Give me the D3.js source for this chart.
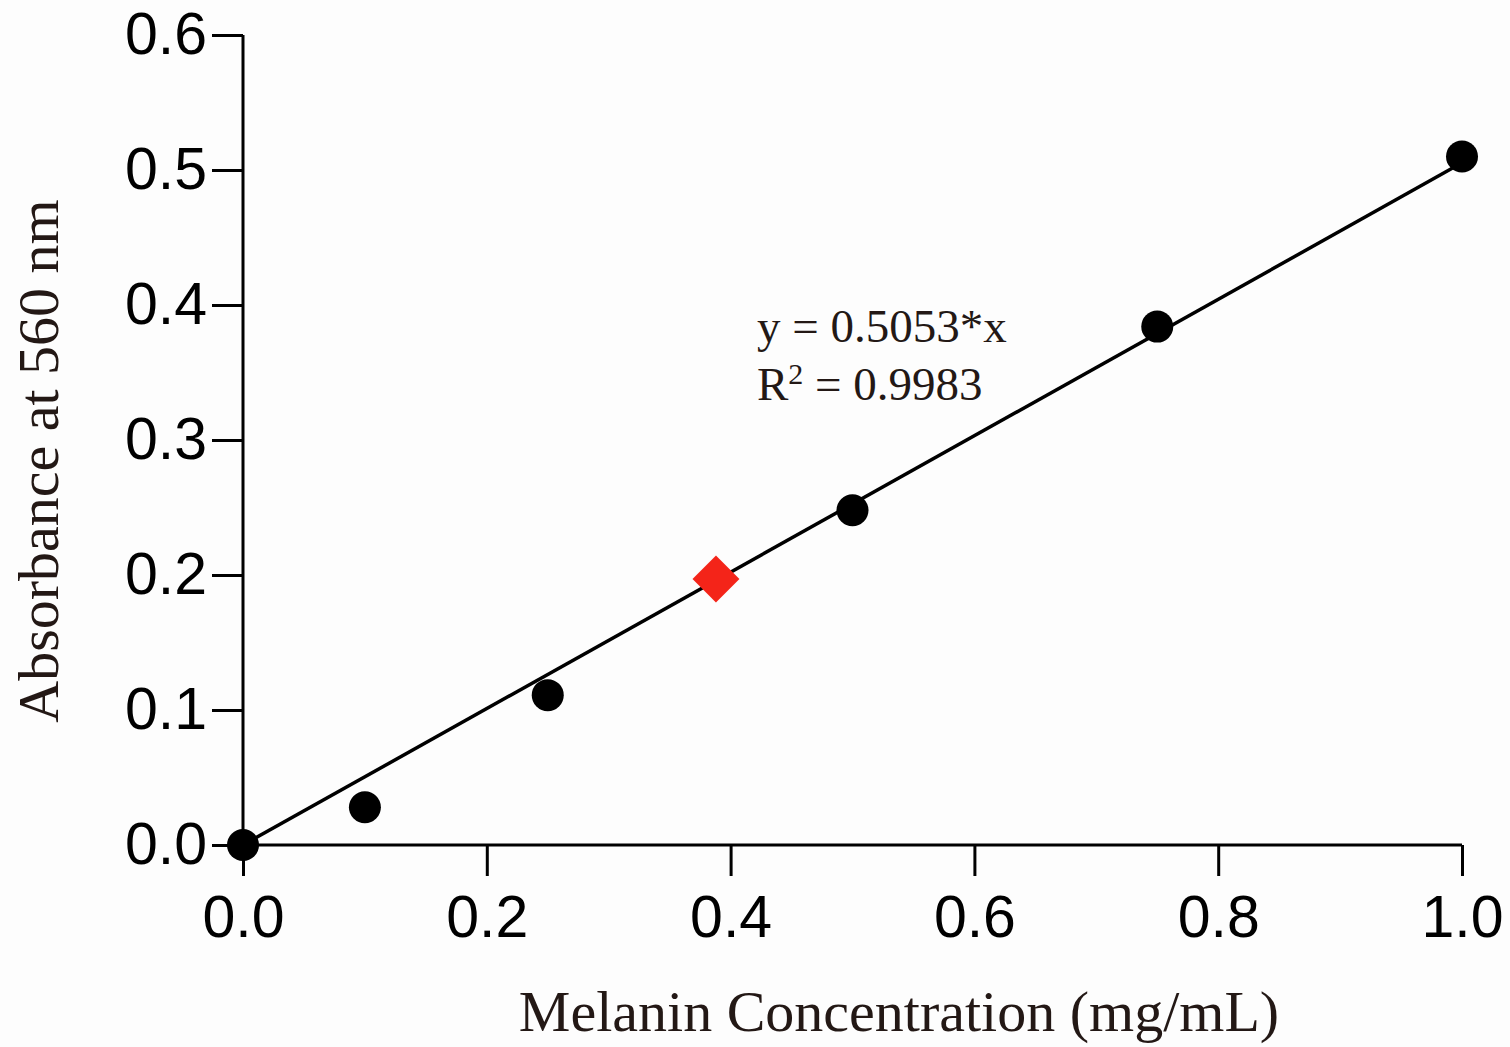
<!DOCTYPE html>
<html>
<head>
<meta charset="utf-8">
<script src="https://cdn.jsdelivr.net/npm/d3@7"></script>
<style>
  body { margin: 0; background: #fdfdfd; }
  svg { display: block; }
</style>
</head>
<body>
<div id="chart"></div>
<script>
var width = 1510;
var height = 1047;

// data
var concentrations = [0, 0.1, 0.25, 0.5, 0.75, 1.0];
var absorbances = [0.0, 0.028, 0.111, 0.248, 0.384, 0.510];
var sample = [0.388, 0.197];
var slope = 0.5053;
var fitRange = [0, 1];
var xTicks = [0, 0.2, 0.4, 0.6, 0.8, 1.0];
var yTicks = [0, 0.1, 0.2, 0.3, 0.4, 0.5, 0.6];
var equationLines = ["y = 0.5053*x", "R2 = 0.9983"];

var textColor = "#231815";

var xScale = d3.scaleLinear().domain([0, 1]).range([243, 1462]);
var yScale = d3.scaleLinear().domain([0, 0.6]).range([845, 35]);

var svg = d3.select("#chart")
    .append("svg")
    .attr("width", width)
    .attr("height", height);

svg.append("rect")
    .attr("width", width)
    .attr("height", height)
    .attr("fill", "#fdfdfd");

// Axes
var xAxis = d3.axisBottom(xScale)
    .tickValues(xTicks)
    .tickSize(31)
    .tickPadding(19)
    .tickFormat(d3.format(".1f"));
var yAxis = d3.axisLeft(yScale)
    .tickValues(yTicks)
    .tickSize(31)
    .tickPadding(5)
    .tickFormat(d3.format(".1f"));

var gx = svg.append("g")
    .attr("transform", "translate(0," + yScale(0) + ")")
    .call(xAxis);
var gy = svg.append("g")
    .attr("transform", "translate(" + xScale(0) + ",0)")
    .call(yAxis);

[gx, gy].forEach(function(g) {
    g.select(".domain")
        .attr("stroke", "#000")
        .attr("stroke-width", 3)
        .attr("d", g === gx
            ? "M" + xScale.range()[0] + ",0H" + xScale.range()[1]
            : "M0," + yScale.range()[0] + "V" + yScale.range()[1]);
    g.selectAll(".tick line")
        .attr("stroke", "#000")
        .attr("stroke-width", 3);
    g.selectAll(".tick text")
        .attr("fill", "#000")
        .style("font-family", "'Liberation Sans', Arial, sans-serif")
        .style("font-size", "59px");
});

// fit line
svg.append("line")
    .attr("x1", xScale(fitRange[0]))
    .attr("y1", yScale(slope * fitRange[0]))
    .attr("x2", xScale(fitRange[1]))
    .attr("y2", yScale(slope * fitRange[1]))
    .attr("stroke", "#000")
    .attr("stroke-width", 3.5);

// standard points
svg.selectAll("circle.pt")
    .data(concentrations)
    .enter()
    .append("circle")
    .attr("class", "pt")
    .attr("cx", function(d) { return xScale(d); })
    .attr("cy", function(d, i) { return yScale(absorbances[i]); })
    .attr("r", 16)
    .attr("fill", "#000");

// sample (red diamond)
svg.append("path")
    .attr("d", d3.symbol().type(d3.symbolSquare).size(1100)())
    .attr("transform", "translate(" + xScale(sample[0]) + "," + yScale(sample[1]) + ") rotate(45)")
    .attr("fill", "#f42419");

// equation text
var eq = svg.append("text")
    .attr("x", 757)
    .attr("y", 342)
    .attr("fill", textColor)
    .style("font-family", "'Liberation Serif', 'Times New Roman', serif")
    .style("font-size", "47px");
eq.append("tspan").text(equationLines[0]);
var r2 = svg.append("text")
    .attr("x", 757)
    .attr("y", 400)
    .attr("fill", textColor)
    .style("font-family", "'Liberation Serif', 'Times New Roman', serif")
    .style("font-size", "47px");
r2.append("tspan").text("R");
r2.append("tspan").text("2").attr("dy", -16).style("font-size", "30px");
r2.append("tspan").text(" = 0.9983").attr("dy", 16);

// axis titles
svg.append("text")
    .attr("x", 899)
    .attr("y", 1031)
    .attr("text-anchor", "middle")
    .attr("fill", textColor)
    .style("font-family", "'Liberation Serif', 'Times New Roman', serif")
    .style("font-size", "58px")
    .text("Melanin Concentration (mg/mL)");

svg.append("text")
    .attr("transform", "translate(58,461) rotate(-90)")
    .attr("text-anchor", "middle")
    .attr("fill", textColor)
    .style("font-family", "'Liberation Serif', 'Times New Roman', serif")
    .style("font-size", "58px")
    .text("Absorbance at 560 nm");
</script>
</body>
</html>
